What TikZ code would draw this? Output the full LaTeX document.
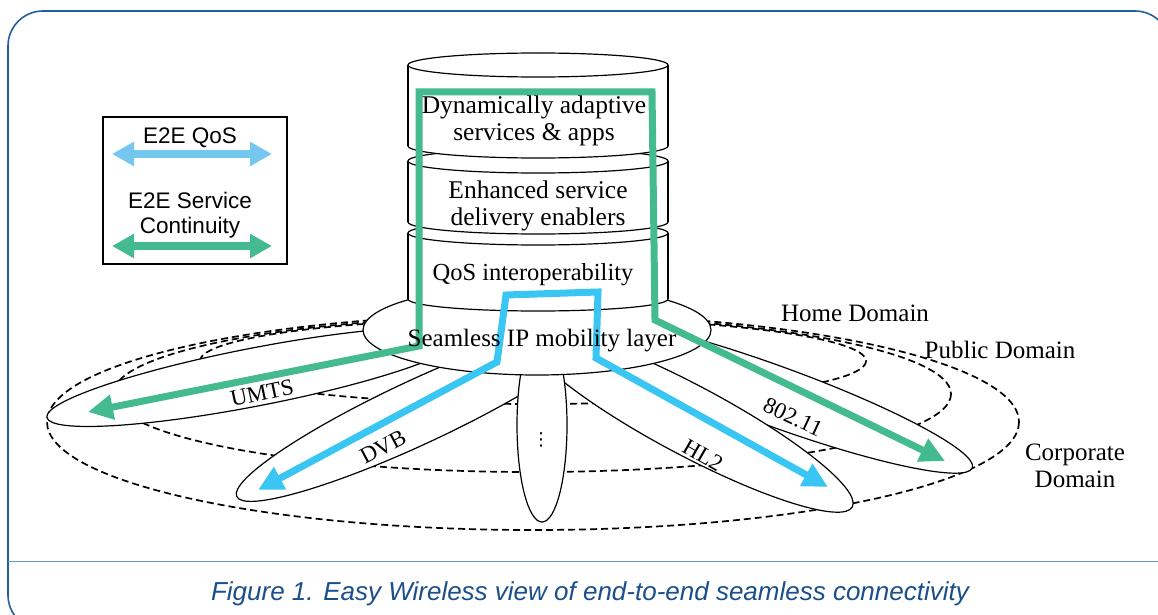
\documentclass[tikz,border=0pt]{standalone}
\usepackage{fontspec}
\setmainfont{Liberation Serif}
\newfontfamily\sansf{Liberation Sans}
\newfontfamily\dejavu{DejaVu Sans}
\usetikzlibrary{arrows.meta}
\definecolor{greenc}{HTML}{44BB8F}
\definecolor{cyanc}{HTML}{3AC6F2}
\definecolor{legcyan}{HTML}{74C8F0}
\definecolor{framec}{HTML}{1F5F9E}
\definecolor{sepc}{HTML}{6C94C8}
\definecolor{capc}{HTML}{1A4F8A}
\newcommand\cylseg[2]{%
  \fill[white] (408,#1) rectangle (668,#2);
  \fill[white] (538,#2) ellipse[x radius=130,y radius=12];
  \draw[thinl] (408,#1) -- (408,#2);
  \draw[thinl] (668,#1) -- (668,#2);
  \begin{scope}
    \clip (400,#2) rectangle (676,#2+20);
    \draw[thinl] (538,#2) ellipse[x radius=130,y radius=12];
  \end{scope}
  \draw[thinl,fill=white] (538,#1) ellipse[x radius=130,y radius=12];
}
\begin{document}
\begin{tikzpicture}[x=1pt,y=-1pt,
  thinl/.style={line width=1.2pt,draw=black},
  dom/.style={line width=1.7pt,dash pattern=on 7pt off 4pt},
  petal/.style={thinl,fill=white},
  gpath/.style={draw=greenc,line width=7pt,line join=miter,
    {Triangle[length=25pt,width=24pt]}-{Triangle[length=25pt,width=24pt]}},
  cpath/.style={draw=cyanc,line width=7pt,line join=miter,
    {Triangle[length=25pt,width=24pt]}-{Triangle[length=25pt,width=24pt]}},
  legarrow/.style={line width=8pt,
    {Triangle[length=22pt,width=23pt]}-{Triangle[length=22pt,width=23pt]}},
  serif/.style={font=\fontsize{25}{27}\selectfont,inner sep=0pt,align=center},
  lab/.style={font=\fontsize{23}{26}\selectfont,inner sep=0pt},
  sanslab/.style={font=\sansf\fontsize{22.5}{25}\selectfont,inner sep=0pt,align=center}]
\useasboundingbox (0,0) rectangle (1158,615);
\clip (0,0) rectangle (1158,615);
% frame
\draw[framec,line width=1.6pt,rounded corners=35pt] (8,11) rectangle (1170,630);
\draw[sepc,line width=1pt] (8,561) -- (1170,561);
% domains
\draw[dom] (533,422) ellipse[x radius=486,y radius=108];
\draw[dom] (532,394) ellipse[x radius=419,y radius=78];
\draw[dom] (533,361) ellipse[x radius=333,y radius=43];
% petals
\draw[petal,rotate around={11:(255,377)}] (255,377) ellipse[x radius=212,y radius=29];
\draw[petal,rotate around={-20:(775,396)}] (775,396) ellipse[x radius=210,y radius=30];
\draw[petal,rotate around={25:(418,412)}] (418,412) ellipse[x radius=200,y radius=32];
\draw[petal,rotate around={-28:(689,420)}] (689,420) ellipse[x radius=185,y radius=35];
\draw[petal] (542,425) ellipse[x radius=25,y radius=97];
% centre ellipse
\draw[petal] (537,330) ellipse[x radius=174,y radius=45];
% cylinder stack
\cylseg{233}{299}
\cylseg{161}{222}
\cylseg{65}{146}
% legend
\draw[line width=1.2pt] (103,117) rectangle (287,264);
\coordinate (lq1) at (112,154); \coordinate (lq2) at (272,154);
\coordinate (ls1) at (112,246); \coordinate (ls2) at (272,246);
\draw[legarrow,legcyan] (lq1) -- (lq2);
\draw[legarrow,greenc] (ls1) -- (ls2);
\node[sanslab] (legq) at (190,138) {E2E QoS};
\node[sanslab] (legs) at (190,215.5) {E2E Service\\Continuity};
% paths
\coordinate (gU) at (88,412);
\coordinate (g1) at (419,346);
\coordinate (g2) at (419,92);
\coordinate (g3) at (652,92);
\coordinate (g4) at (655,320);
\coordinate (gW) at (945,461);
\draw[gpath] (gU) -- (g1) -- (g2) -- (g3) -- (g4) -- (gW);
\coordinate (cD) at (258,490);
\coordinate (c1) at (497,362);
\coordinate (c2) at (506,295);
\coordinate (c3) at (598,292);
\coordinate (c4) at (596,358);
\coordinate (cH) at (828,487);
\draw[cpath] (cD) -- (c1) -- (c2) -- (c3) -- (c4) -- (cH);
% texts
\node[serif,font=\fontsize{25.5}{27}\selectfont] (t1) at (534,121) {Dynamically adaptive\\services \& apps};
\node[serif,font=\fontsize{25.5}{27}\selectfont] (t2) at (538,206) {Enhanced service\\delivery enablers};
\node[serif,font=\fontsize{24.5}{27}\selectfont] (t3) at (533,275) {QoS interoperability};
\node[serif] (t4) at (542,341) {Seamless IP mobility layer};
\node[lab,rotate=12] (umts) at (262,393) {UMTS};
\node[lab,rotate=28] (dvb) at (383,447) {DVB};
\node[lab,rotate=-30] (hl2) at (703,455) {HL2};
\node[lab,rotate=-25] (wifi) at (793,417) {802.11};
\node[font=\dejavu\fontsize{18}{18}\selectfont,inner sep=0pt] (dots) at (541,440) {⋮};
\node[serif] (home) at (855,313) {Home Domain};
\node[serif] (public) at (1000,350) {Public Domain};
\node[serif] (corp) at (1075,466) {Corporate\\Domain};
\node[font=\sansf\itshape\fontsize{26}{28}\selectfont,text=capc,inner sep=0pt] (cap) at (590,594) {Figure 1. Easy Wireless view of end-to-end seamless connectivity};
\end{tikzpicture}
\end{document}
